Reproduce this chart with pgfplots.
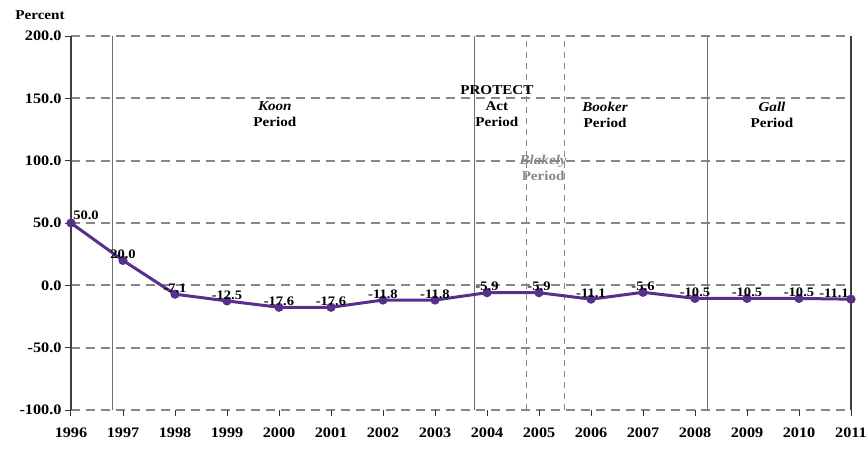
\documentclass[border=0pt]{standalone}
\usepackage{pgfplots}
\pgfplotsset{compat=1.18}
\usepackage{fontspec}
\setmainfont{Liberation Serif}[FakeStretch=1.12]
\definecolor{lineP}{RGB}{88,48,140}
\definecolor{gridg}{RGB}{135,135,135}
\definecolor{vline}{RGB}{110,110,110}
\begin{document}
\begin{tikzpicture}
\useasboundingbox (-71pt,-38pt) rectangle (795pt,410pt);
\begin{axis}[
  at={(0,0)}, anchor=south west, scale only axis,
  width=780pt, height=374pt,
  xmin=1996, xmax=2011, ymin=-100, ymax=200,
  xtick={1996,1997,1998,1999,2000,2001,2002,2003,2004,2005,2006,2007,2008,2009,2010,2011},
  xticklabels={\textbf{1996},\textbf{1997},\textbf{1998},\textbf{1999},\textbf{2000},\textbf{2001},\textbf{2002},\textbf{2003},\textbf{2004},\textbf{2005},\textbf{2006},\textbf{2007},\textbf{2008},\textbf{2009},\textbf{2010},\textbf{2011}},
  ytick={-100,-50,0,50,100,150,200},
  yticklabels={\textbf{-100.0},\textbf{-50.0},\textbf{0.0},\textbf{50.0},\textbf{100.0},\textbf{150.0},\textbf{200.0}},
  ticklabel style={font=\fontsize{14.5}{16}\selectfont},
  xticklabel style={yshift=-8pt},
  yticklabel style={xshift=0pt},
  tick pos=left, tick align=outside, major tick length=6pt,
  tick style={black!80, line width=1pt},
  ymajorgrids,
  major grid style={gridg, line width=2pt, dash pattern=on 9pt off 6pt},
  axis line style={draw=none},
  clip=false,
]
% frame sides
\draw[black!75, line width=1.3pt] (axis cs:1996,-100) -- (axis cs:1996,200);
\draw[black!75, line width=1.3pt] (axis cs:2011,-100) -- (axis cs:2011,200);
% period separators
\draw[vline, line width=0.9pt] (axis cs:1996.8,-100) -- (axis cs:1996.8,200);
\draw[vline, line width=0.9pt] (axis cs:2003.75,-100) -- (axis cs:2003.75,200);
\draw[vline, line width=0.9pt] (axis cs:2008.23,-100) -- (axis cs:2008.23,200);
\draw[gridg, line width=0.9pt, dash pattern=on 6pt off 5pt] (axis cs:2004.75,-100) -- (axis cs:2004.75,200);
\draw[gridg, line width=0.9pt, dash pattern=on 6pt off 5pt] (axis cs:2005.48,-100) -- (axis cs:2005.48,200);
% period labels
\node[align=center, font=\fontsize{13.5}{16}\selectfont\bfseries] at (axis cs:1999.92,137) {\textit{Koon}\\Period};
\node[align=center, font=\fontsize{13.5}{16}\selectfont\bfseries] at (axis cs:2004.19,144) {PROTECT\\Act\\Period};
\node[align=center, font=\fontsize{13.5}{16}\selectfont\bfseries, text=gridg] at (axis cs:2005.08,94) {\textit{Blakely}\\Period};
\node[align=center, font=\fontsize{13.5}{16}\selectfont\bfseries] at (axis cs:2006.27,137) {\textit{Booker}\\Period};
\node[align=center, font=\fontsize{13.5}{16}\selectfont\bfseries] at (axis cs:2009.48,137) {\textit{Gall}\\Period};
\node[font=\fontsize{13.5}{15}\selectfont\bfseries] at ([xshift=-31pt,yshift=21pt]rel axis cs:0,1) {Percent};
% data line
\addplot[lineP, line width=3pt, mark=*, mark size=3pt, mark options={fill=lineP}] coordinates {
 (1996,50.0) (1997,20.0) (1998,-7.1) (1999,-12.5) (2000,-17.6) (2001,-17.6)
 (2002,-11.8) (2003,-11.8) (2004,-5.9) (2005,-5.9) (2006,-11.1) (2007,-5.6)
 (2008,-10.5) (2009,-10.5) (2010,-10.5) (2011,-11.1)};
% labels
\addplot[draw=none, mark=none, point meta=explicit symbolic,
  nodes near coords,
  every node near coord/.append style={anchor=south, inner sep=1.5pt, font=\fontsize{13}{15}\selectfont\bfseries}]
 coordinates {
 (1997,20.0) [20.0] (1998,-7.1) [-7.1] (1999,-12.5) [-12.5] (2000,-17.6) [-17.6] (2001,-17.6) [-17.6]
 (2002,-11.8) [-11.8] (2003,-11.8) [-11.8] (2004,-5.9) [-5.9] (2005,-5.9) [-5.9] (2006,-11.1) [-11.1] (2007,-5.6) [-5.6]
 (2008,-10.5) [-10.5] (2009,-10.5) [-10.5] (2010,-10.5) [-10.5]};
\addplot[draw=none, mark=none, point meta=explicit symbolic,
  nodes near coords,
  every node near coord/.append style={anchor=south, inner sep=1.5pt, xshift=15pt, yshift=2pt, font=\fontsize{13}{15}\selectfont\bfseries}]
 coordinates {(1996,50.0) [50.0]};
\addplot[draw=none, mark=none, point meta=explicit symbolic,
  nodes near coords,
  every node near coord/.append style={anchor=south, inner sep=1.5pt, xshift=-17pt, font=\fontsize{13}{15}\selectfont\bfseries}]
 coordinates {(2011,-11.1) [-11.1]};
\end{axis}
\end{tikzpicture}
\end{document}
